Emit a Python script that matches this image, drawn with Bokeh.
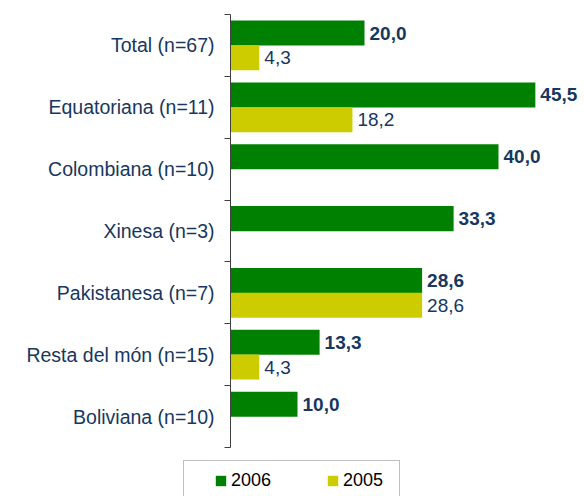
from bokeh.plotting import figure
from bokeh.models import ColumnDataSource, FixedTicker, Legend, LegendItem, Range1d, LinearAxis
from bokeh.core.properties import value
from bokeh.embed import file_html
from bokeh.resources import INLINE

categories = ["Total (n=67)", "Equatoriana (n=11)", "Colombiana (n=10)", "Xinesa (n=3)",
              "Pakistanesa (n=7)", "Resta del món (n=15)", "Boliviana (n=10)"]
values_2006 = [20.0, 45.5, 40.0, 33.3, 28.6, 13.3, 10.0]
values_2005 = [4.3, 18.2, None, None, 28.6, 4.3, None]
series_names = ["2006", "2005"]

GREEN = "#008000"
YELLOW = "#CCCC00"
NAVY = "#17375E"
FONT = "Liberation Sans"

W, HT = 584, 496
AXIS_X = 230          # pixel position of the value axis
TOP = 14              # pixel position of the top of the category band
CAT_PX = 433 / 7      # pixel height of one category
SCALE = 6.7           # pixels per unit

n = len(categories)
centers = [n - i - 0.5 for i in range(n)]
OFF = 0.2
H = 0.405

def fmt(v):
    return ("%.1f" % v).replace(".", ",")

src06 = ColumnDataSource(dict(
    y=[c + OFF for c in centers], v=values_2006,
    lab=[fmt(v) for v in values_2006]))
idx05 = [i for i, v in enumerate(values_2005) if v is not None]
src05 = ColumnDataSource(dict(
    y=[centers[i] - OFF for i in idx05], v=[values_2005[i] for i in idx05],
    lab=[fmt(values_2005[i]) for i in idx05]))
srccat = ColumnDataSource(dict(y=centers, lab=categories, x=[0] * n))

p = figure(width=W, height=HT, output_backend="svg", toolbar_location=None,
           x_axis_location=None, y_axis_location=None,
           x_range=Range1d(-AXIS_X / SCALE, (W - AXIS_X) / SCALE),
           y_range=Range1d(n - (HT - TOP) / CAT_PX, n + TOP / CAT_PX),
           min_border=0)
p.outline_line_color = None
p.xgrid.visible = False
p.ygrid.visible = False
p.background_fill_color = "white"
p.border_fill_color = "white"

r06 = p.hbar(y="y", right="v", left=0, height=H, source=src06, fill_color=GREEN, line_color=None)
r05 = p.hbar(y="y", right="v", left=0, height=H, source=src05, fill_color=YELLOW, line_color=None)

p.text(x="v", y="y", text="lab", source=src06, x_offset=5, text_baseline="middle",
       text_align="left", text_font=value(FONT), text_font_size="19px",
       text_font_style="bold", text_color=NAVY)
p.text(x="v", y="y", text="lab", source=src05, x_offset=5, text_baseline="middle",
       text_align="left", text_font=value(FONT), text_font_size="19px",
       text_color=NAVY)
p.text(x="x", y="y", text="lab", source=srccat, x_offset=-16, text_baseline="middle",
       text_align="right", text_font=value(FONT), text_font_size="19.5px",
       text_color=NAVY)

yax = LinearAxis(fixed_location=0, bounds=(0, n))
yax.ticker = FixedTicker(ticks=[], minor_ticks=list(range(n + 1)))
yax.major_label_text_font_size = "0px"
yax.major_tick_line_color = None
yax.major_tick_out = 0
yax.major_tick_in = 0
yax.major_label_standoff = 0
yax.minor_tick_line_color = "#404040"
yax.minor_tick_out = 6
yax.minor_tick_in = 0
yax.axis_line_color = "#404040"
p.add_layout(yax, "left")

LEG_H = 39
legend = Legend(items=[LegendItem(label=series_names[0], renderers=[r06]),
                       LegendItem(label=series_names[1], renderers=[r05])],
                orientation="horizontal",
                location=(183, HT - (462 + LEG_H)),
                glyph_width=13, glyph_height=13, label_standoff=4, spacing=48,
                label_width=47, padding=9, title=" ", title_location="left",
                title_text_font_size="13px", title_standoff=6,
                label_text_font=FONT, label_text_font_size="18px",
                label_text_color="black", border_line_color="#808080",
                border_line_width=1, background_fill_alpha=1, margin=0)
p.add_layout(legend, "center")

open("out.html", "w").write(file_html(p, INLINE))
